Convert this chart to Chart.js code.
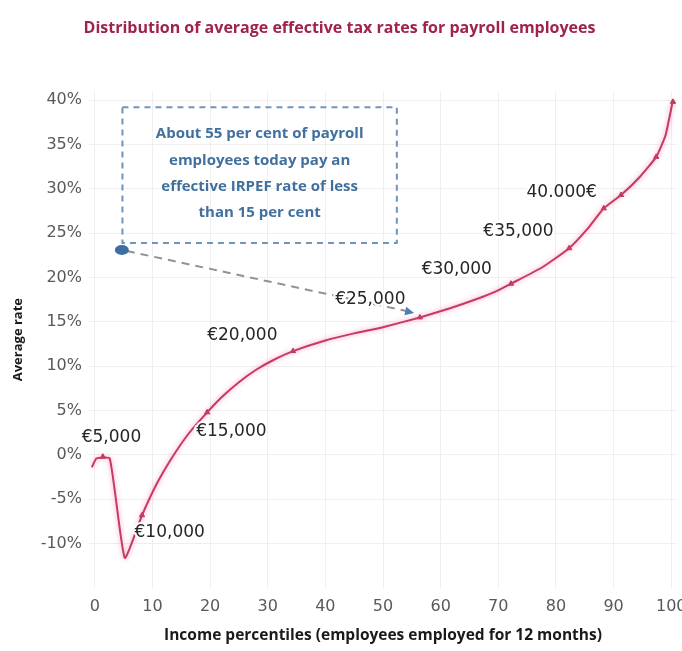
<!DOCTYPE html>
<html>
<head>
<meta charset="utf-8">
<script src="https://cdn.jsdelivr.net/npm/chart.js@4/dist/chart.umd.min.js"></script>
<style>
  html,body{margin:0;padding:0;background:#fff;}
  #wrap{width:682px;height:651px;position:relative;}
</style>
</head>
<body>
<div id="wrap"><canvas id="taxChart"></canvas></div>
<script>
// curve: income percentile -> average effective rate (%)
const curveX = [-0.5, 0.3, 2.6, 5.2, 8.2, 10.8, 13.5, 16.4, 19.5, 22, 25, 28, 31, 34.4, 40, 45, 50, 56.4, 61.5, 66.4, 69.5, 72.2, 77.5, 82.3, 85.5, 88.3, 91.3, 94.5, 97.4, 99, 100.3];
const curveY = [-1.4, -0.4, -0.4, -11.6, -6.8, -3.2, -0.2, 2.5, 4.8, 6.5, 8.2, 9.6, 10.7, 11.7, 12.9, 13.7, 14.4, 15.5, 16.5, 17.6, 18.4, 19.3, 21.1, 23.3, 25.5, 27.8, 29.3, 31.3, 33.6, 36, 40];

// income thresholds marked on the curve
const markerX = [1.4, 8.2, 19.5, 34.4, 56.4, 72.2, 82.3, 88.3, 91.3, 97.4, 100.3];
const markerY = [-0.2, -6.8, 4.8, 11.7, 15.5, 19.3, 23.3, 27.8, 29.3, 33.6, 39.8];

// label texts and where they sit (data units)
const labelText = ['€5,000', '€10,000', '€15,000', '€20,000', '€25,000', '€30,000', '€35,000', '40.000€'];
const labelX = [2.9, 13.0, 23.7, 25.6, 47.8, 62.8, 73.5, 81.0];
const labelY = [2.0, -8.8, 2.6, 13.5, 17.5, 20.9, 25.2, 29.6];

const xTicks = [0, 10, 20, 30, 40, 50, 60, 70, 80, 90, 100];
const yTicks = [-10, -5, 0, 5, 10, 15, 20, 25, 30, 35, 40];

const calloutLines = ['About 55 per cent of payroll', 'employees today pay an', 'effective IRPEF rate of less', 'than 15 per cent'];

const TICK_FONT = {family: 'DejaVu Sans', size: 16};
const LABEL_FONT = '17px "DejaVu Sans"';

// glow under the main line
const glowPlugin = {
  id: 'glow',
  beforeDatasetDraw(chart, args){
    if(args.index !== 0) return;
    const ctx = chart.ctx;
    ctx.save();
    ctx.shadowColor = 'rgba(245,130,165,0.85)';
    ctx.shadowBlur = 5;
  },
  afterDatasetDraw(chart, args){
    if(args.index !== 0) return;
    chart.ctx.restore();
  }
};

// callout box, leader line and euro labels
const notesPlugin = {
  id: 'notes',
  afterDatasetsDraw(chart){
    const {ctx, scales:{x, y}} = chart;
    ctx.save();

    // callout box
    const bx0 = x.getPixelForValue(4.8), bx1 = x.getPixelForValue(52.4);
    const by0 = y.getPixelForValue(39.2), by1 = y.getPixelForValue(23.9);
    ctx.setLineDash([6, 5]);
    ctx.lineWidth = 2;
    ctx.strokeStyle = '#6f95bf';
    ctx.strokeRect(bx0, by0, bx1 - bx0, by1 - by0);

    ctx.fillStyle = '#41709f';
    ctx.font = 'bold 15px "Open Sans"';
    ctx.textAlign = 'center';
    ctx.textBaseline = 'middle';
    const cx = (bx0 + bx1) / 2;
    calloutLines.forEach((t, i) => ctx.fillText(t, cx, by0 + 27 + i * 26.3));

    // leader from dot to the 55th percentile
    const dx = x.getPixelForValue(4.7), dy = y.getPixelForValue(23.1);
    const ex = x.getPixelForValue(55.4), ey = y.getPixelForValue(16.0);
    ctx.setLineDash([8, 6]);
    ctx.strokeStyle = '#8c939c';
    ctx.lineWidth = 2;
    ctx.beginPath();
    ctx.moveTo(dx + 5, dy + 1);
    ctx.lineTo(ex - 8, ey - 2);
    ctx.stroke();
    ctx.setLineDash([]);

    // arrow head
    const ang = Math.atan2(ey - dy, ex - dx);
    ctx.fillStyle = '#4f7fb3';
    ctx.beginPath();
    ctx.moveTo(ex, ey);
    ctx.lineTo(ex - 10 * Math.cos(ang - 0.45), ey - 10 * Math.sin(ang - 0.45));
    ctx.lineTo(ex - 10 * Math.cos(ang + 0.45), ey - 10 * Math.sin(ang + 0.45));
    ctx.closePath();
    ctx.fill();

    // dot
    ctx.fillStyle = '#3e6fa3';
    ctx.beginPath();
    ctx.ellipse(dx, dy, 7, 5, 0, 0, Math.PI * 2);
    ctx.fill();

    // euro labels
    ctx.font = LABEL_FONT;
    ctx.lineJoin = 'round';
    labelText.forEach((t, i) => {
      const px = x.getPixelForValue(labelX[i]), py = y.getPixelForValue(labelY[i]);
      ctx.strokeStyle = '#fff';
      ctx.lineWidth = 4;
      ctx.strokeText(t, px, py);
      ctx.fillStyle = '#262626';
      ctx.fillText(t, px, py);
    });
    ctx.restore();
  }
};

const ctx = document.getElementById('taxChart').getContext('2d');
const chart = new Chart(ctx, {
  type: 'line',
  data: {
    datasets: [
      {
        data: curveX.map((v, i) => ({x: v, y: curveY[i]})),
        borderColor: '#c43b63',
        borderWidth: 2,
        pointRadius: 0,
        tension: 0.15,
        fill: false
      },
      {
        data: markerX.map((v, i) => ({x: v, y: markerY[i]})),
        showLine: false,
        pointStyle: 'triangle',
        pointRadius: 3,
        backgroundColor: '#a8284f',
        borderColor: '#a8284f',
        borderWidth: 1
      }
    ]
  },
  options: {
    responsive: true,
    maintainAspectRatio: false,
    animation: false,
    layout: {padding: {left: 0, right: 3, top: 0, bottom: 0}},
    plugins: {
      legend: {display: false},
      tooltip: {enabled: false},
      title: {
        display: true,
        text: 'Distribution of average effective tax rates for payroll employees',
        color: '#a0224e',
        font: {family: 'Open Sans', size: 16, weight: 'bold'},
        padding: {top: 19, bottom: 53}
      }
    },
    scales: {
      x: {
        type: 'linear',
        min: -1,
        max: 101,
        afterBuildTicks: s => { s.ticks = xTicks.map(v => ({value: v})); },
        afterFit: s => { s.height = 63; s.paddingLeft = 0; s.paddingRight = 0; },
        ticks: {color: '#595959', font: TICK_FONT, padding: 9, maxRotation: 0},
        grid: {color: '#efefef', drawTicks: false},
        border: {display: false},
        title: {
          display: true,
          text: 'Income percentiles (employees employed for 12 months)',
          color: '#1a1a1a',
          font: {family: 'Open Sans', size: 15.5, weight: 'bold'},
          padding: {top: 0, bottom: 6}
        }
      },
      y: {
        min: -15,
        max: 41,
        afterBuildTicks: s => { s.ticks = yTicks.map(v => ({value: v})); },
        afterFit: s => { s.width = 89; s.paddingTop = 0; s.paddingBottom = 0; },
        ticks: {color: '#595959', font: TICK_FONT, padding: 7, callback: v => v + '%'},
        grid: {color: '#efefef', drawTicks: false},
        border: {display: false},
        title: {
          display: true,
          text: 'Average rate',
          color: '#1a1a1a',
          font: {family: 'Open Sans', size: 13, weight: 'bold'},
          padding: {top: 10, bottom: 0}
        }
      }
    }
  },
  plugins: [glowPlugin, notesPlugin]
});
</script>
</body>
</html>
